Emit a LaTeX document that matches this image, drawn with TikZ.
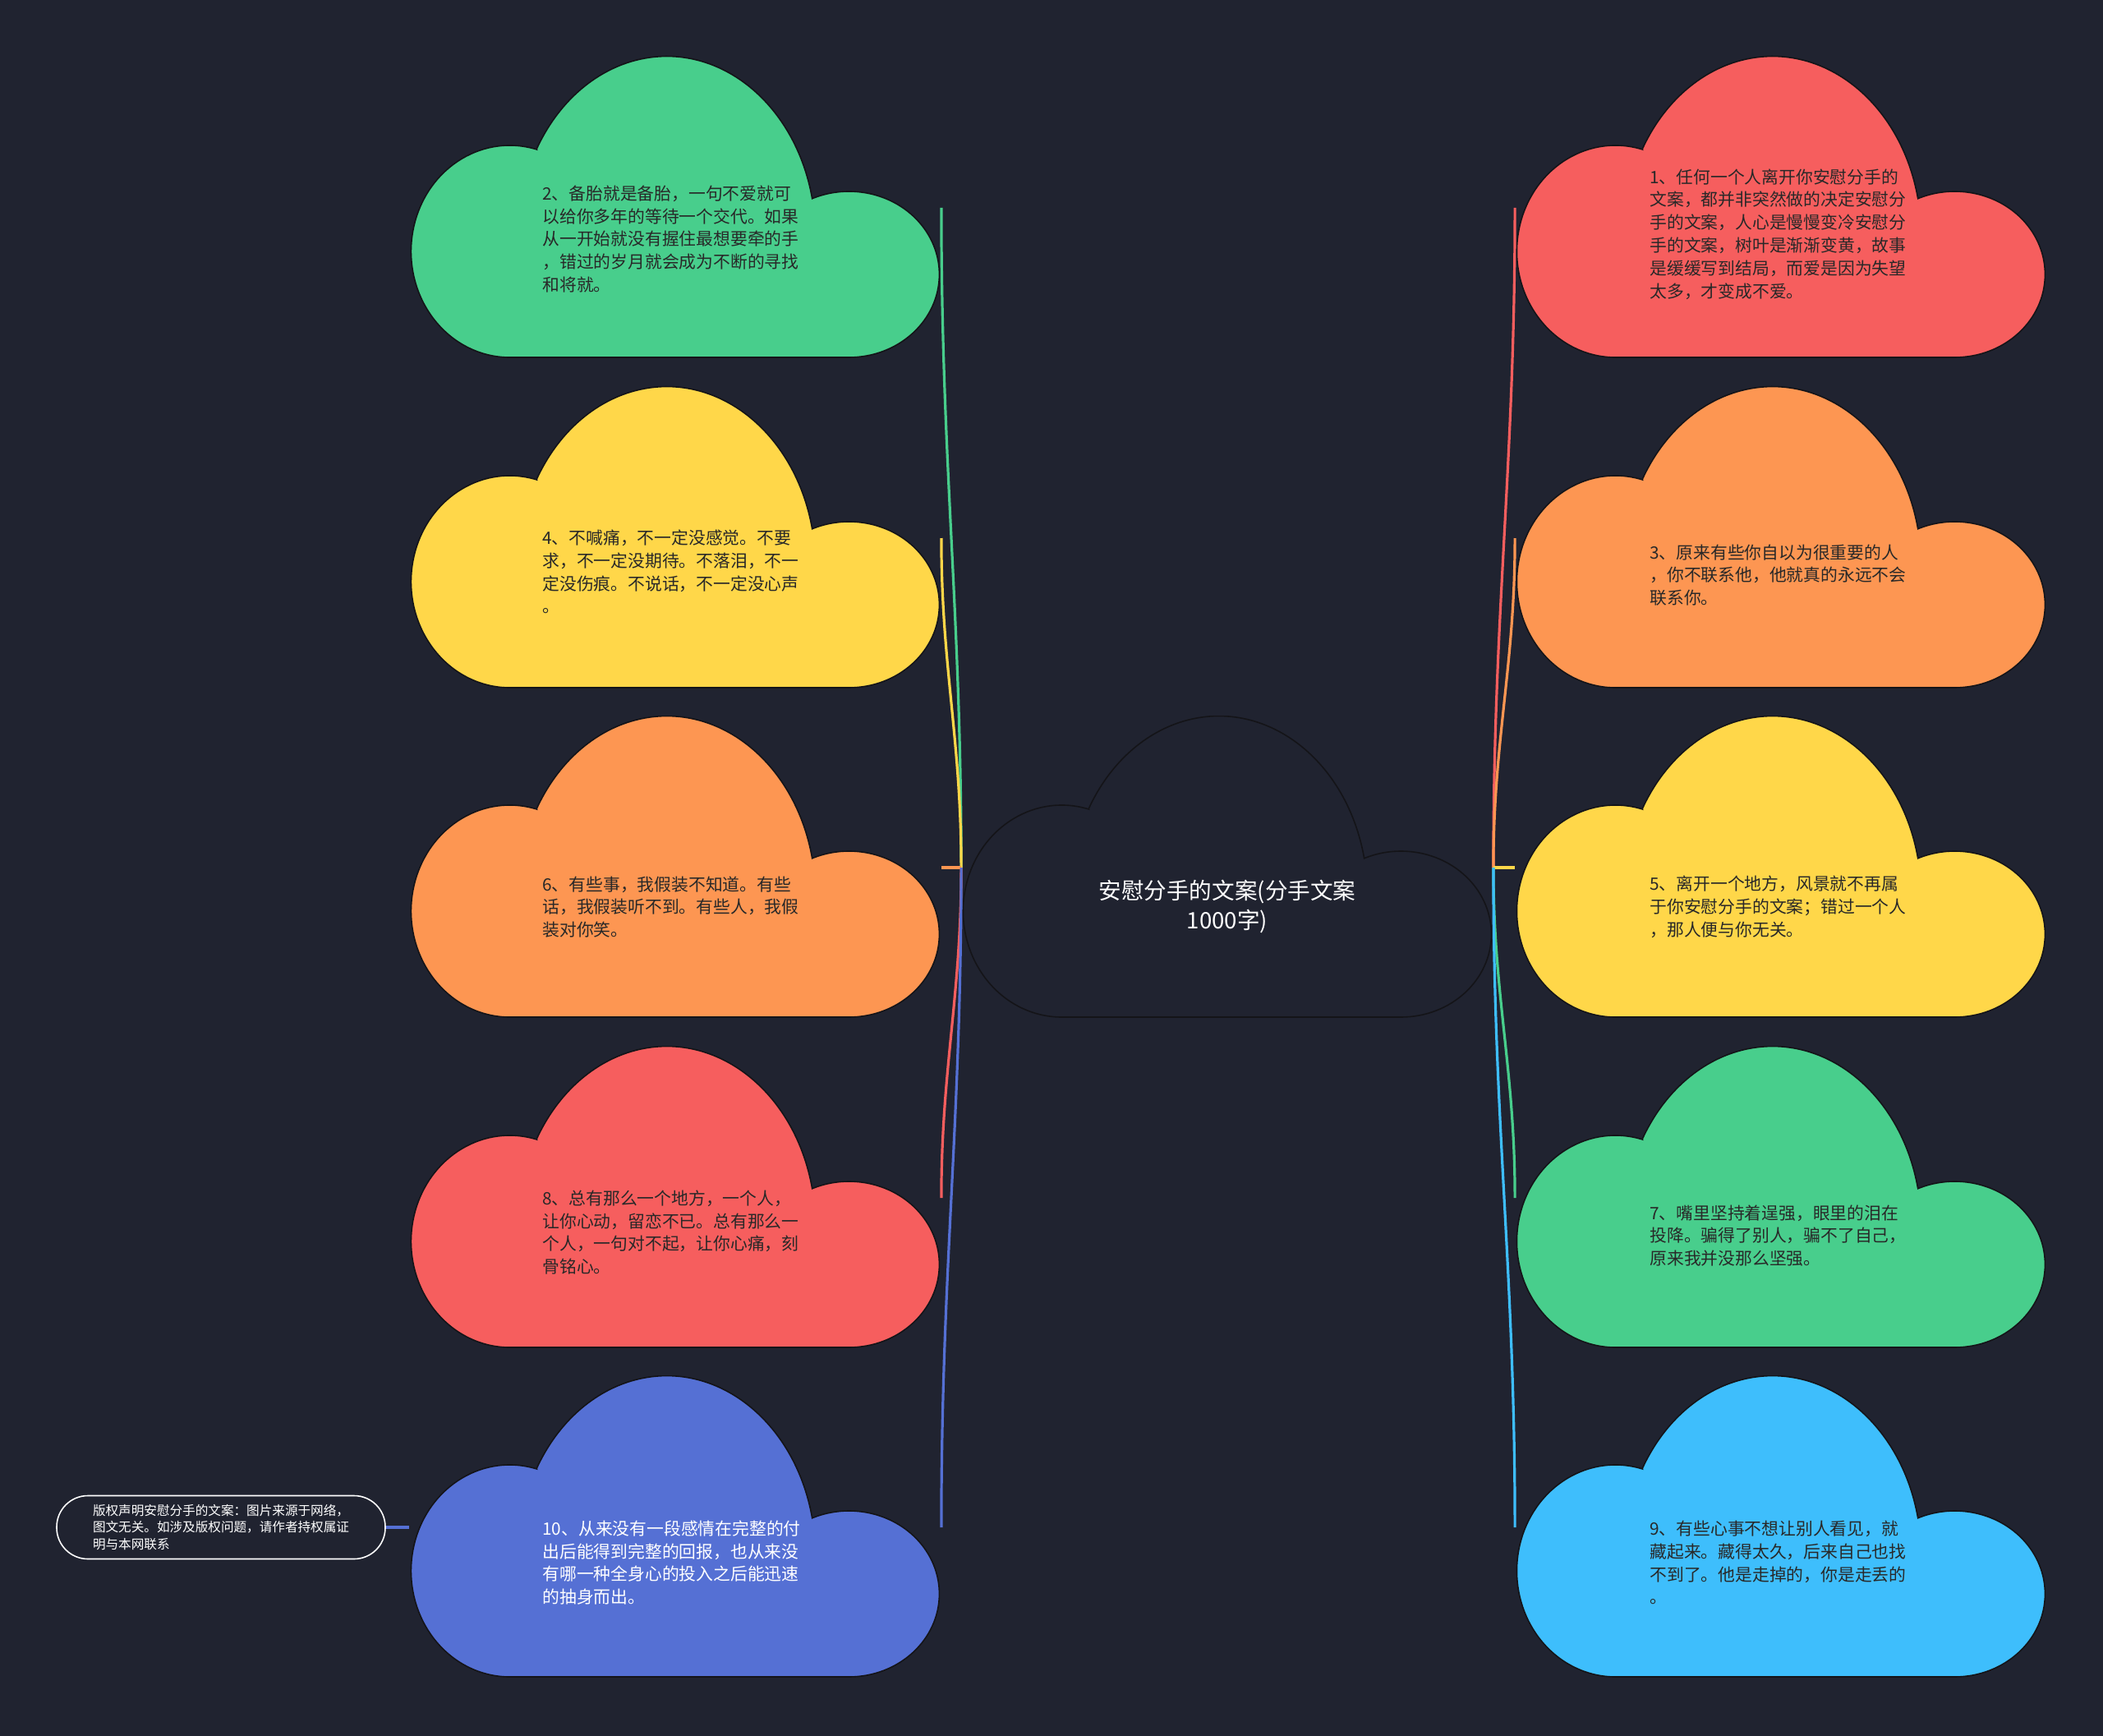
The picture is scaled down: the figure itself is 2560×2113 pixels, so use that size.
\documentclass[tikz,border=0pt]{standalone}
\usepackage{fontspec}
\setmainfont{Noto Sans CJK SC}
\usetikzlibrary{positioning}
\definecolor{bgcol}{RGB}{32,35,48}
\definecolor{edgecol}{RGB}{20,20,24}
\definecolor{inkcol}{RGB}{40,40,40}
\definecolor{cgreen}{RGB}{72,206,140}
\definecolor{cred}{RGB}{246,94,94}
\definecolor{cyellow}{RGB}{255,215,73}
\definecolor{corange}{RGB}{253,150,82}
\definecolor{cblue}{RGB}{85,112,212}
\definecolor{csky}{RGB}{62,190,252}
\tikzset{
  % cloud outline, drawn round the centre of the node
  cloudbox/.style={minimum width=323.5pt,minimum height=185pt,inner sep=0pt,
    path picture={\fill[#1,draw=edgecol,line width=0.8pt]
      (-84.25pt,35.5pt) arc[start angle=74,end angle=270,x radius=60pt,y radius=64.5pt]
      -- ++(206.5pt,0pt) arc[start angle=-90,end angle=114,x radius=55pt,y radius=50.5pt]
      arc[start angle=12,end angle=151,x radius=90.5pt,y radius=109.3pt] -- cycle;}},
  cloudtext/.style={anchor=west,align=left,text=inkcol,inner sep=0pt,
    font=\fontsize{10.4pt}{13.9pt}\selectfont},
  titletext/.style={align=center,text=white,inner sep=0pt,
    font=\fontsize{13.8pt}{18pt}\selectfont},
  notebox/.style={draw=white,line width=0.8pt,rounded corners=19pt,
    minimum width=200pt,minimum height=38.5pt,inner sep=0pt,align=left,text=white,
    font=\fontsize{7.8pt}{10.2pt}\selectfont},
  link/.style={line width=1.6pt,#1}
}
\begin{document}
\begin{tikzpicture}[x=0.5pt,y=-0.5pt]
  \fill[bgcol] (0,0) rectangle (2560,2113);
  \useasboundingbox (0,0) rectangle (2560,2113);
  % centre cloud
  \node[cloudbox=bgcol] (ctr) at (1494,1056) {};
  \node[titletext] (title) at (1494,1104) {安慰分手的文案(分手文案\\1000字)};
  % left column
  \node[cloudbox=cgreen] (c2) at (822,253) {};
  \node[cloudbox=cyellow] (c4) at (822,655) {};
  \node[cloudbox=corange] (c6) at (822,1056) {};
  \node[cloudbox=cred] (c8) at (822,1458) {};
  \node[cloudbox=cblue] (c10) at (822,1859) {};
  \node[cloudtext] (t2) at (660,291) {2、备胎就是备胎，一句不爱就可\\以给你多年的等待一个交代。如果\\从一开始就没有握住最想要牵的手\\，错过的岁月就会成为不断的寻找\\和将就。};
  \node[cloudtext] (t4) at (660,696) {4、不喊痛，不一定没感觉。不要\\求，不一定没期待。不落泪，不一\\定没伤痕。不说话，不一定没心声\\。};
  \node[cloudtext] (t6) at (660,1104) {6、有些事，我假装不知道。有些\\话，我假装听不到。有些人，我假\\装对你笑。};
  \node[cloudtext] (t8) at (660,1500) {8、总有那么一个地方，一个人，\\让你心动，留恋不已。总有那么一\\个人，一句对不起，让你心痛，刻\\骨铭心。};
  \node[cloudtext,text=white] (t10) at (660,1902) {10、从来没有一段感情在完整的付\\出后能得到完整的回报，也从来没\\有哪一种全身心的投入之后能迅速\\的抽身而出。};
  % right column
  \node[cloudbox=cred] (c1) at (2168,253) {};
  \node[cloudbox=corange] (c3) at (2168,655) {};
  \node[cloudbox=cyellow] (c5) at (2168,1056) {};
  \node[cloudbox=cgreen] (c7) at (2168,1458) {};
  \node[cloudbox=csky] (c9) at (2168,1859) {};
  \node[cloudtext] (t1) at (2008,285) {1、任何一个人离开你安慰分手的\\文案，都并非突然做的决定安慰分\\手的文案，人心是慢慢变冷安慰分\\手的文案，树叶是渐渐变黄，故事\\是缓缓写到结局，而爱是因为失望\\太多，才变成不爱。};
  \node[cloudtext] (t3) at (2008,700) {3、原来有些你自以为很重要的人\\，你不联系他，他就真的永远不会\\联系你。};
  \node[cloudtext] (t5) at (2008,1104) {5、离开一个地方，风景就不再属\\于你安慰分手的文案；错过一个人\\，那人便与你无关。};
  \node[cloudtext] (t7) at (2008,1504) {7、嘴里坚持着逞强，眼里的泪在\\投降。骗得了别人，骗不了自己，\\原来我并没那么坚强。};
  \node[cloudtext] (t9) at (2008,1902) {9、有些心事不想让别人看见，就\\藏起来。藏得太久，后来自己也找\\不到了。他是走掉的，你是走丢的\\。};
  % copyright note
  \node[notebox] (note) at (269,1859) {版权声明安慰分手的文案：图片来源于网络，\\图文无关。如涉及版权问题，请作者持权属证\\明与本网联系};
  % branches
  \draw[link=cgreen] (ctr.west) to[out=90,in=-90] (c2.east);
  \draw[link=cyellow] (ctr.west) to[out=90,in=-90] (c4.east);
  \draw[link=corange] (ctr.west) -- (c6.east);
  \draw[link=cred] (ctr.west) to[out=-90,in=90] (c8.east);
  \draw[link=cblue] (ctr.west) to[out=-90,in=90] (c10.east);
  \draw[link=cred] (ctr.east) to[out=90,in=-90] (c1.west);
  \draw[link=corange] (ctr.east) to[out=90,in=-90] (c3.west);
  \draw[link=cyellow] (ctr.east) -- (c5.west);
  \draw[link=cgreen] (ctr.east) to[out=-90,in=90] (c7.west);
  \draw[link=csky] (ctr.east) to[out=-90,in=90] (c9.west);
  \draw[link=cblue] (note.east) -- (c10.west);
\end{tikzpicture}
\end{document}
